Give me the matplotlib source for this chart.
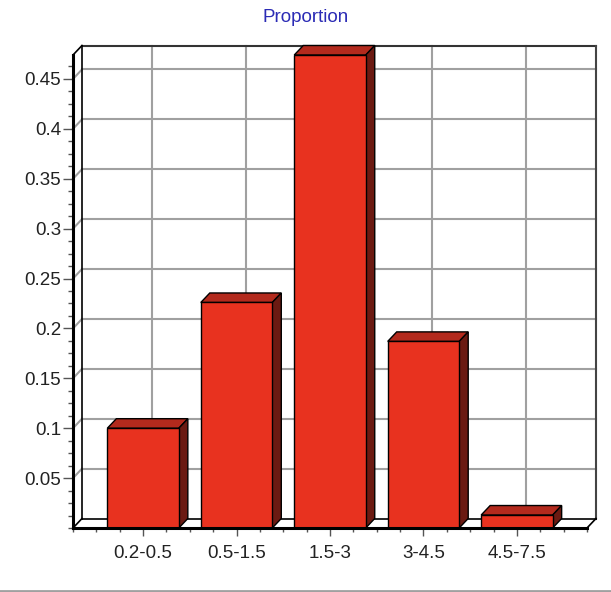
import matplotlib
matplotlib.use('Agg')
import matplotlib.pyplot as plt
from matplotlib.patches import Polygon
from matplotlib.lines import Line2D
from matplotlib.ticker import MultipleLocator

plt.rcParams['font.family'] = ['Liberation Sans', 'DejaVu Sans']

# Données
categories = ['0.2-0.5', '0.5-1.5', '1.5-3', '3-4.5', '4.5-7.5']
proportions = [0.100, 0.226, 0.474, 0.187, 0.013]
y_ticks = [0.05, 0.1, 0.15, 0.2, 0.25, 0.3, 0.35, 0.4, 0.45]
y_tick_labels = ['0.05', '0.1', '0.15', '0.2', '0.25', '0.3', '0.35', '0.4', '0.45']

# Couleurs
front_c = '#e8321f'
top_c = '#b32a1d'
side_c = '#6b1a12'
grid_c = '#a0a0a0'

W, H = 611, 592
fig = plt.figure(figsize=(W / 100, H / 100), dpi=100)
left, right, top, bottom = 73, 587, 55, 528
ax = fig.add_axes([left / W, 1 - bottom / H, (right - left) / W, (bottom - top) / H])

n = len(categories)
x0, x1 = -0.75, n - 0.25
y0, y1 = 0, max(proportions)
ax.set_xlim(x0, x1)
ax.set_ylim(y0, y1)

# Décalage de profondeur (pixels -> unités de données)
DX, DY = 9, 9.5
dx = DX * (x1 - x0) / (right - left)
dy = DY * (y1 - y0) / (bottom - top)

def seg(xs, ys, color, lw, z):
    ax.plot(xs, ys, color=color, lw=lw, zorder=z, clip_on=False,
            solid_capstyle='projecting')

# Grille sur le mur du fond et le mur de gauche
for y in y_ticks:
    seg([x0 + dx, x1 + dx], [y + dy, y + dy], grid_c, 1.5, 1)
    seg([x0, x0 + dx], [y, y + dy], grid_c, 1.5, 1)
for i in range(n):
    seg([i + dx, i + dx], [dy, y1 + dy], grid_c, 1.5, 1)

# Contours des murs et du sol
seg([x0 + dx, x1 + dx], [y1 + dy, y1 + dy], '#333333', 1.5, 2)
seg([x1 + dx, x1 + dx], [dy, y1 + dy], '#444444', 1.5, 2)
seg([x0 + dx, x0 + dx], [dy, y1 + dy], 'black', 1.2, 2)
seg([x0, x0 + dx], [y1, y1 + dy], 'black', 1.2, 2)
seg([x0 + dx, x1 + dx], [dy, dy], 'black', 1.2, 2)
seg([x0, x0 + dx], [0, dy], 'black', 1.2, 2)
seg([x1, x1 + dx], [0, dy], 'black', 1.2, 2)

# Barres 3D
bars = ax.bar(range(n), proportions, width=0.765, color=front_c,
              edgecolor='black', lw=1, zorder=4, clip_on=False)
for b in bars:
    xl = b.get_x()
    xr = xl + b.get_width()
    h = b.get_height()
    ax.add_patch(Polygon([(xl, h), (xr, h), (xr + dx, h + dy), (xl + dx, h + dy)],
                         closed=True, fc=top_c, ec='black', lw=1, zorder=3,
                         clip_on=False))
    ax.add_patch(Polygon([(xr, 0), (xr + dx, dy), (xr + dx, h + dy), (xr, h)],
                         closed=True, fc=side_c, ec='black', lw=1, zorder=3,
                         clip_on=False))

# Axes avant
seg([x0, x0], [0, y1], 'black', 2.2, 6)
seg([x0, x1], [0, 0], 'black', 2.2, 6)

for s in ax.spines.values():
    s.set_visible(False)
ax.patch.set_visible(False)

ax.set_xticks(range(n), categories)
ax.xaxis.set_minor_locator(MultipleLocator(0.25))
ax.set_yticks(y_ticks, y_tick_labels)
ax.yaxis.set_minor_locator(MultipleLocator(0.0125))

ax.tick_params(axis='both', which='both', direction='out', color='#555555',
               width=1, labelsize=13.5, labelcolor='#222222')
ax.tick_params(axis='x', which='major', length=5.5, pad=7)
ax.tick_params(axis='x', which='minor', length=3)
ax.tick_params(axis='y', which='major', length=7, pad=1.5)
ax.tick_params(axis='y', which='minor', length=3.5)

fig.text(306 / W, 1 - 18 / H, 'Proportion', color='#2b2bb5', fontsize=13.5,
         ha='center', va='center')

fig.add_artist(Line2D([0, 1], [1 - 591 / H] * 2, color='#a0a0a0', lw=2,
                      transform=fig.transFigure))

fig.savefig('out.png', dpi=100)
